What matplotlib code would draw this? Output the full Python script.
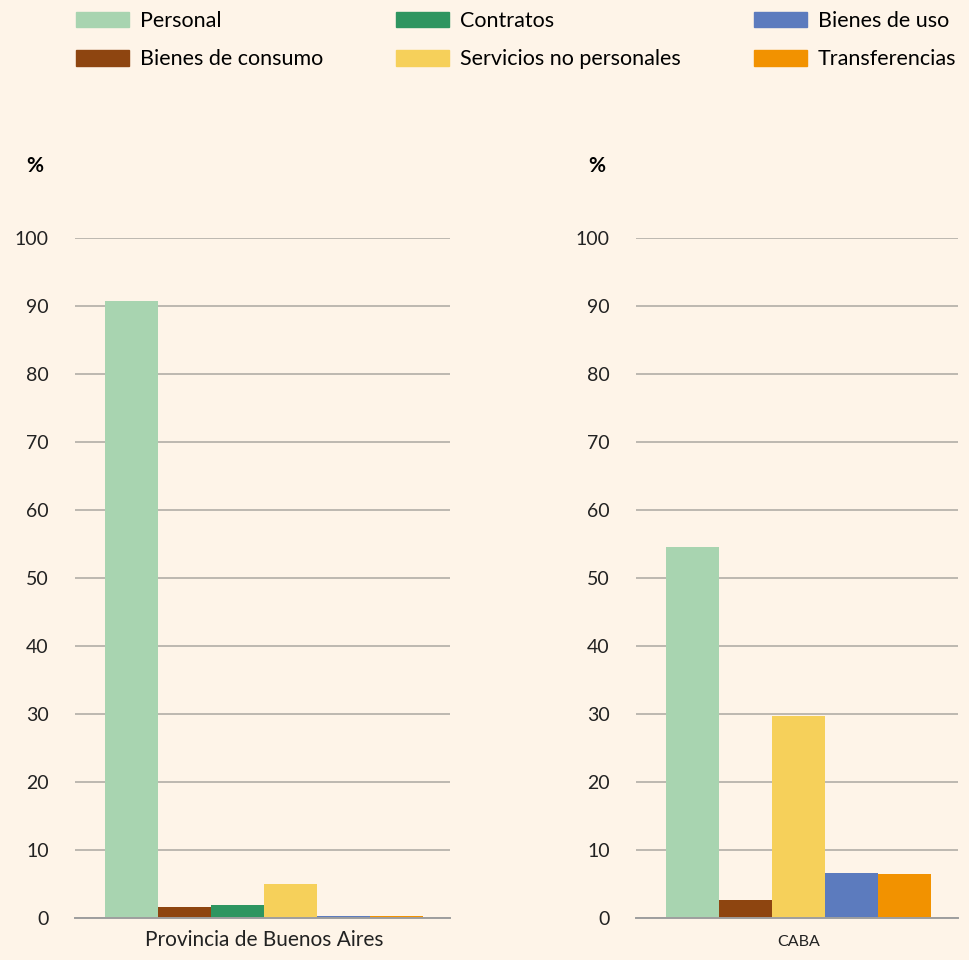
import matplotlib.pyplot as plt
from matplotlib.patches import Patch

# Composición del gasto por jurisdicción (%)
categorias = ['Personal', 'Bienes de consumo', 'Contratos',
              'Servicios no personales', 'Bienes de uso', 'Transferencias']
colores = ['#A8D4B0', '#8E4510', '#2E9560', '#F6D05A', '#5C7BBE', '#F29200']

provincia = [90.7, 1.6, 1.9, 5.0, 0.3, 0.3]
# CABA no tiene Contratos
caba_categorias = ['Personal', 'Bienes de consumo', 'Servicios no personales',
                   'Bienes de uso', 'Transferencias']
caba = [54.6, 2.6, 29.7, 6.6, 6.5]

yticks = [0, 10, 20, 30, 40, 50, 60, 70, 80, 90, 100]

fondo = '#FEF4E8'
plt.rcParams['font.family'] = ['Lato', 'DejaVu Sans']

W, H = 969, 960
fig = plt.figure(figsize=(W / 100, H / 100), dpi=100, facecolor=fondo)

def panel(x0, x1, cats, vals, nombre, fs_nombre, pad_nombre):
    ax = fig.add_axes([x0 / W, 42 / H, (x1 - x0) / W, (918 - 238) / H])
    ax.set_facecolor(fondo)
    col = [colores[categorias.index(c)] for c in cats]
    xs = list(range(len(vals)))
    ax.bar(xs, vals, width=1.0, color=col, zorder=3)
    n = len(vals)
    ax.set_xlim(-0.5 - 30 / 53, n - 0.5 + 27 / 53)
    ax.set_ylim(0, 100)
    ax.set_yticks(yticks)
    ax.yaxis.grid(True, color='#BDB8B0', lw=1.4, zorder=0)
    ax.tick_params(axis='y', length=0, pad=19, labelsize=14, labelcolor='#222222')
    ax.set_xticks([(n - 1) / 2])
    ax.set_xticklabels([nombre], fontsize=fs_nombre, color='#222222')
    ax.tick_params(axis='x', length=0, pad=pad_nombre)
    for s in ['top', 'right', 'left']:
        ax.spines[s].set_visible(False)
    ax.spines['bottom'].set_color('#9E9E9E')
    ax.spines['bottom'].set_linewidth(1.4)
    ax.spines['bottom'].set_zorder(4)
    return ax

panel(75, 450, categorias, provincia, 'Provincia de Buenos Aires', 15, 9)
panel(636, 958, caba_categorias, caba, 'CABA', 11.5, 12)

fig.text(35 / W, 1 - 166 / H, '%', fontsize=15, fontweight='bold', ha='center', va='center')
fig.text(597 / W, 1 - 166 / H, '%', fontsize=15, fontweight='bold', ha='center', va='center')

handles = [Patch(color=c, label=l) for c, l in zip(colores, categorias)]
fig.legend(handles=handles, ncol=3, loc='upper left', bbox_to_anchor=(76 / W, 1 - 11 / H),
           frameon=False, fontsize=15.5, borderpad=0, borderaxespad=0,
           handlelength=2.46, handleheight=0.75, handletextpad=0.5,
           columnspacing=3.4, labelspacing=0.85)

fig.savefig('out.png', dpi=100, facecolor=fondo)
